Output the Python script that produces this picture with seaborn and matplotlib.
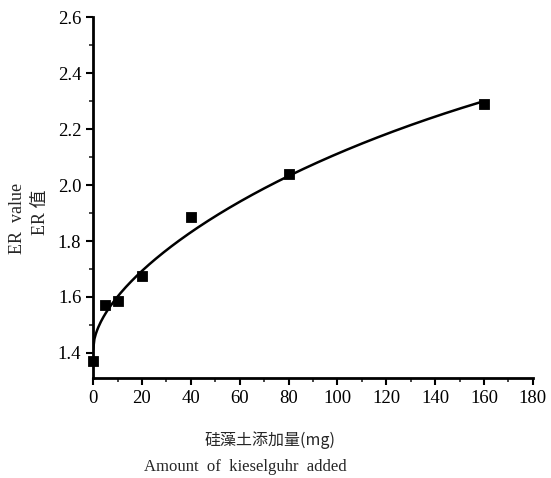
import numpy as np
import pandas as pd
import matplotlib
matplotlib.use("Agg")
import matplotlib.pyplot as plt
import seaborn as sns
from matplotlib.ticker import MultipleLocator

# measured points (amount of kieselguhr, ER value)
amount = [0, 5, 10, 20, 40, 80, 160]
er_value = [1.37, 1.57, 1.585, 1.675, 1.885, 2.04, 2.29]

# fitted curve
curve_x = [0, 1, 3, 5, 10, 20, 30, 40, 50, 62, 80, 105, 132, 160]
curve_y = [1.40, 1.47, 1.52, 1.553, 1.592, 1.680, 1.762, 1.839, 1.89, 1.946,
           2.03, 2.137, 2.226, 2.294]

x_ticks = [0, 20, 40, 60, 80, 100, 120, 140, 160, 180]
y_ticks = [1.4, 1.6, 1.8, 2.0, 2.2, 2.4, 2.6]


def smooth_curve(xs, ys):
    # smooth the read-off curve values: cubic in sqrt(x)
    s = np.sqrt(np.asarray(xs, float))
    coef = np.polyfit(s, ys, 3)
    xf = np.linspace(min(xs), max(xs), 300)
    return xf, np.polyval(coef, np.sqrt(xf))


sns.set_theme(style="ticks")
plt.rcParams['font.family'] = ['Liberation Serif', 'Noto Sans CJK SC']

fig = plt.figure(figsize=(5.51, 4.78), dpi=100)
ax = fig.add_axes([0.169, 0.209, 0.798, 0.755])

points = pd.DataFrame({'amount': amount, 'er': er_value})
xf, yf = smooth_curve(curve_x, curve_y)
curve = pd.DataFrame({'x': xf, 'y': yf})

sns.lineplot(data=curve, x='x', y='y', ax=ax, color='black', lw=1.8)
sns.scatterplot(data=points, x='amount', y='er', ax=ax, marker='s', s=55,
                color='black', edgecolor='black', zorder=5, clip_on=False)

ax.set_xlim(0, 180)
ax.set_ylim(1.31, 2.6)
ax.set_xticks(x_ticks)
ax.set_yticks(y_ticks)
ax.xaxis.set_minor_locator(MultipleLocator(10))
ax.yaxis.set_minor_locator(MultipleLocator(0.1))
ax.tick_params(axis='both', which='major', direction='out', length=5, width=1.5,
               labelsize=13.5, colors='black')
ax.tick_params(axis='both', which='minor', direction='out', length=3, width=1.2)
ax.set_yticklabels([f"{v:.1f}" for v in y_ticks])
sns.despine(ax=ax)
for side in ['left', 'bottom']:
    ax.spines[side].set_linewidth(2)
    ax.spines[side].set_color('black')
ax.set_xlabel('')
ax.set_ylabel('')

fig.text(0.031, 0.544, 'ER  value', rotation=90, ha='center', va='center',
         fontsize=13)
fig.text(0.073, 0.556, 'ER 值', rotation=90, ha='center', va='center',
         fontsize=13, family=['Liberation Serif', 'Noto Sans CJK SC'])
fig.text(0.49, 0.08, '硅藻土添加量(mg)', ha='center', va='center',
         fontsize=11.5, family=['Noto Sans CJK SC', 'Liberation Serif'])
fig.text(0.445, 0.023, 'Amount  of  kieselguhr  added', ha='center',
         va='center', fontsize=12)

fig.savefig('out.png', dpi=100)
